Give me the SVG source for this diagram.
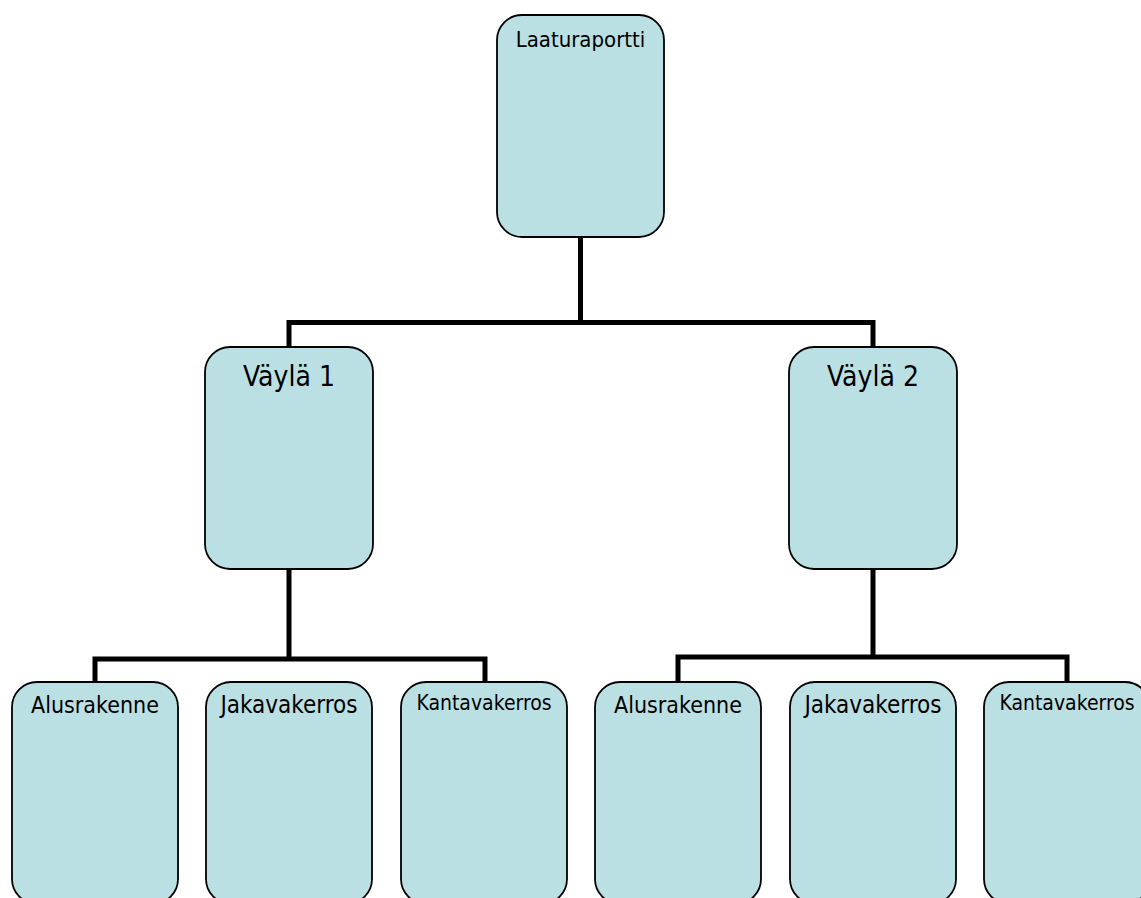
<svg xmlns="http://www.w3.org/2000/svg" width="1141" height="898" viewBox="0 0 1141 898">
<style>
.box{fill:#bbe0e3;stroke:#000;stroke-width:1.8}
.t{font-family:"DejaVu Sans Condensed","DejaVu Sans",sans-serif;fill:#000;text-anchor:middle}
.c{fill:none;stroke:#000;stroke-width:5;stroke-linejoin:miter}
</style>
<rect width="1141" height="898" fill="#fff"/>
<g id="connectors">
<path class="c" d="M580.5 237 V322.5 M289 347 V322.5 H873 V347"/>
<path class="c" d="M289 569 V659 M95 682 V659 H485 V682"/>
<path class="c" d="M873 569 V657 M678 682 V657 H1067 V682"/>
</g>
<g id="n-laaturaportti"><rect class="box" x="497" y="15" width="167" height="222" rx="25"/><text class="t" x="580.5" y="47" font-size="22">Laaturaportti</text></g>
<g id="n-vayla1"><rect class="box" x="205" y="347" width="168" height="222" rx="25"/><text class="t" x="289" y="386" font-size="28">Väylä 1</text></g>
<g id="n-vayla2"><rect class="box" x="789" y="347" width="168" height="222" rx="25"/><text class="t" x="873" y="386" font-size="28">Väylä 2</text></g>
<g id="n-alus1"><rect class="box" x="12" y="682" width="166" height="222" rx="25"/><text class="t" x="95" y="713" font-size="23">Alusrakenne</text></g>
<g id="n-jaka1"><rect class="box" x="206" y="682" width="166" height="222" rx="25"/><text class="t" x="289" y="713" font-size="24">Jakavakerros</text></g>
<g id="n-kanta1"><rect class="box" x="401" y="682" width="166" height="222" rx="25"/><text class="t" x="484" y="710" font-size="21">Kantavakerros</text></g>
<g id="n-alus2"><rect class="box" x="595" y="682" width="166" height="222" rx="25"/><text class="t" x="678" y="713" font-size="23">Alusrakenne</text></g>
<g id="n-jaka2"><rect class="box" x="790" y="682" width="166" height="222" rx="25"/><text class="t" x="873" y="713" font-size="24">Jakavakerros</text></g>
<g id="n-kanta2"><rect class="box" x="984" y="682" width="166" height="222" rx="25"/><text class="t" x="1067" y="710" font-size="21">Kantavakerros</text></g>
</svg>
